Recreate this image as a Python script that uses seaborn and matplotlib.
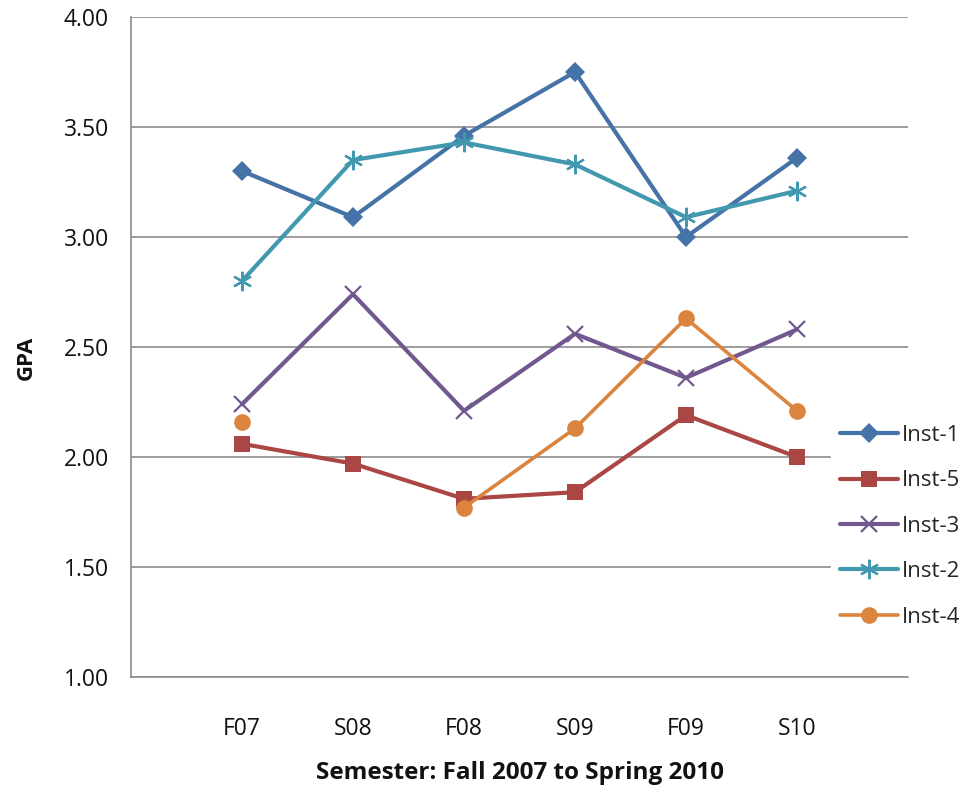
import numpy as np
import pandas as pd
import matplotlib
matplotlib.use("Agg")
import matplotlib.pyplot as plt
from matplotlib.lines import Line2D
import seaborn as sns

semesters = ["F07", "S08", "F08", "S09", "F09", "S10"]
inst_1 = [3.30, 3.09, 3.46, 3.75, 3.00, 3.36]
inst_5 = [2.06, 1.97, 1.81, 1.84, 2.19, 2.00]
inst_3 = [2.24, 2.74, 2.21, 2.56, 2.36, 2.58]
inst_2 = [2.80, 3.35, 3.43, 3.33, 3.09, 3.21]
inst_4 = [2.16, np.nan, 1.77, 2.13, 2.63, 2.21]

series = [
    ("Inst-1", inst_1, "#4572A7", "D", 10, 3.0),
    ("Inst-5", inst_5, "#AA4643", "s", 11, 3.0),
    ("Inst-3", inst_3, "#71588F", "x", 11, 3.0),
    ("Inst-2", inst_2, "#4198AF", (6, 2, 0), 14, 3.0),
    ("Inst-4", inst_4, "#DB843D", "o", 12, 2.6),
]

sns.set_theme(style="white")
plt.rcParams["font.family"] = ["Open Sans", "DejaVu Sans"]


def edge_width(marker):
    return 1.6 if marker == "x" or isinstance(marker, tuple) else 0


fig = plt.figure(figsize=(9.6, 7.89), dpi=100)
ax = fig.add_axes([131 / 960, 1 - 677 / 789, (908 - 131) / 960, (677 - 17) / 789])

xpos = np.arange(len(semesters))
for name, vals, color, marker, ms, lw in series:
    df = pd.DataFrame({"x": xpos, "y": vals})
    # break the line where a semester has no value
    df["run"] = df["y"].isna().cumsum()
    df = df.dropna()
    for _, seg in df.groupby("run"):
        sns.lineplot(data=seg, x="x", y="y", ax=ax, color=color, lw=lw,
                     marker=marker, markersize=ms, markeredgecolor=color,
                     markeredgewidth=edge_width(marker), sort=False,
                     legend=False, estimator=None)

ax.set_xlim(-1, 6)
ax.set_ylim(1.0, 4.0)
yt = np.arange(1.0, 4.01, 0.5)
ax.set_yticks(yt)
ax.set_yticklabels([f"{v:.2f}" for v in yt], fontsize=16.5, color="#111111")
ax.set_xticks(np.arange(-1, 7))
ax.set_xticklabels([""] + semesters + [""], fontsize=16.5, color="#111111")
ax.tick_params(axis="y", direction="out", length=6, width=1.2,
               color="#8c8c8c", pad=10)
ax.tick_params(axis="x", direction="out", length=8, width=1.2,
               color="#8c8c8c", pad=21)
ax.yaxis.grid(True, color="#8c8c8c", lw=1.2)
ax.xaxis.grid(False)
ax.set_axisbelow(True)
for side in ("top", "right"):
    ax.spines[side].set_visible(False)
for side in ("left", "bottom"):
    ax.spines[side].set_color("#8c8c8c")
    ax.spines[side].set_linewidth(1.2)

ax.set_xlabel("Semester: Fall 2007 to Spring 2010", fontsize=17.5,
              fontweight="bold", color="#111111")
ax.set_ylabel("GPA", fontsize=16, fontweight="bold", color="#111111")
ax.xaxis.set_label_coords(0.5, (677 - 761) / 660)
ax.yaxis.set_label_coords((37 - 131) / 777, 0.5 - (358 - 347) / 660)

handles = []
for name, vals, color, marker, ms, lw in series:
    handles.append(Line2D([0], [0], color=color, lw=lw, marker=marker,
                          markersize=ms, markeredgecolor=color,
                          markeredgewidth=edge_width(marker)))
fig.legend(handles, [s[0] for s in series], loc="upper left",
           bbox_to_anchor=(831 / 960, 1 - 416 / 789), frameon=True,
           facecolor="white", edgecolor="white", framealpha=1,
           fontsize=16, handlelength=2.6, handletextpad=0.2,
           labelspacing=1.1, borderpad=0.4, borderaxespad=0)

fig.savefig("out.png", dpi=100)
